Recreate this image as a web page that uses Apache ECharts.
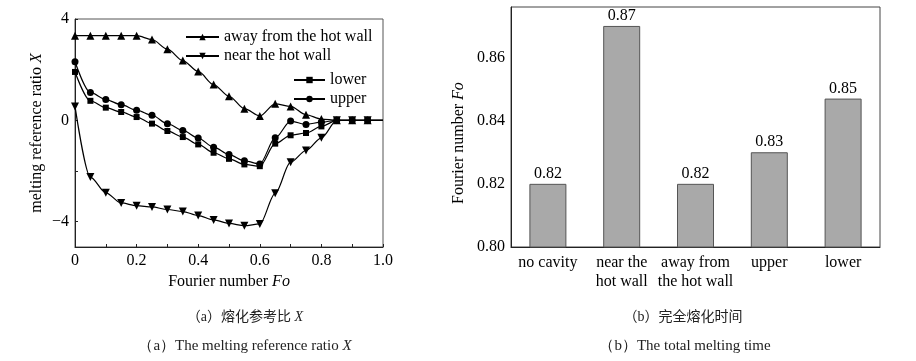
<!DOCTYPE html>
<html><head><meta charset="utf-8">
<script src="https://cdn.jsdelivr.net/npm/echarts@6/dist/echarts.min.js"></script>
<style>html,body{margin:0;padding:0;background:#fff}#c{width:916px;height:361px}</style>
</head><body><div id="c"></div>
<script>
const fo = [0,0.05,0.1,0.15,0.2,0.25,0.3,0.35,0.4,0.45,0.5,0.55,0.6,0.65,0.7,0.75,0.8,0.85,0.9,0.95,1.0];
const away  = [3.34,3.34,3.34,3.34,3.34,3.19,2.81,2.36,1.93,1.41,0.95,0.46,0.17,0.65,0.55,0.22,0.05,0,0,0,0];
const near  = [0.55,-2.24,-2.86,-3.26,-3.37,-3.42,-3.52,-3.60,-3.76,-3.93,-4.07,-4.16,-4.09,-2.88,-1.65,-1.19,-0.69,0,0,0,0];
const lower = [1.91,0.77,0.50,0.33,0.13,-0.13,-0.42,-0.66,-0.95,-1.28,-1.52,-1.74,-1.81,-0.92,-0.59,-0.50,-0.24,0,0,0,0];
const upper = [2.31,1.10,0.82,0.62,0.40,0.20,-0.13,-0.40,-0.70,-1.06,-1.35,-1.60,-1.72,-0.69,-0.03,-0.16,-0.07,0,0,0,0];
const xTickLabels = ['0','0.2','0.4','0.6','0.8','1.0'];
const yTickLabelsLeft = [-4,0,4];
const cases = ['no cavity','near the\nhot wall','away from\nthe hot wall','upper','lower'];
const totalFo = [0.820,0.870,0.820,0.830,0.847];

const F = 'Liberation Serif, Times New Roman, serif';
const CJK = 'Liberation Serif, Noto Sans CJK SC';
const AX = '#222';
function pts(arr){ return fo.map((x,i)=> i===fo.length-1 ? {value:[x,arr[i]],symbol:'none'} : [x,arr[i]]); }
function lineSeries(name, arr, sym, rot){
  return {type:'line', name, xAxisIndex:0, yAxisIndex:0, data:pts(arr), smooth:0.3, smoothMonotone:'x',
    symbol:sym, symbolSize: sym==='circle'?7:(sym==='rect'?6:8), symbolRotate:rot||0,
    lineStyle:{color:'#000',width:1.2}, itemStyle:{color:'#000'}, animation:false};
}
function cap(text, x, y, size, fam){
  return {text, left:x, top:y, textAlign:'center',
    textStyle:{fontFamily:fam, fontSize:size, fontWeight:'normal', color:'#222',
      rich:{i:{fontStyle:'italic', fontFamily:F, fontSize:size, color:'#222'}}}};
}
const chart = echarts.init(document.getElementById('c'), null, {renderer:'canvas'});
chart.setOption({
  animation:false,
  textStyle:{fontFamily:F},
  title:[
    cap('（a）熔化参考比 {i|X}', 240, 305, 14, CJK),
    cap('（a）The melting reference ratio {i|X}', 240, 334, 15, F),
    cap('（b）完全熔化时间', 678, 305, 14, CJK),
    cap('（b）The total melting time', 680, 334, 15, F)
  ],
  legend:[
    {data:['away from the hot wall','near the hot wall'], orient:'vertical', left:180, top:24, itemWidth:33, itemHeight:8, itemGap:3,
     textStyle:{fontFamily:F, fontSize:16, color:'#000'}, selectedMode:false},
    {data:['lower','upper'], orient:'vertical', left:288, top:67, itemWidth:31, itemHeight:8, itemGap:3,
     textStyle:{fontFamily:F, fontSize:16, color:'#000'}, selectedMode:false}
  ],
  grid:[
    {left:75, right:533, top:19, bottom:114, show:true, borderColor:'#555', borderWidth:1},
    {left:511, right:36, top:7, bottom:114, show:true, borderColor:'#444', borderWidth:1}
  ],
  xAxis:[
    {type:'value', gridIndex:0, min:0, max:1, interval:0.1,
     name:'Fourier number {i|Fo}', nameLocation:'middle', nameGap:24,
     nameTextStyle:{fontFamily:F, fontSize:16, color:'#000', rich:{i:{fontStyle:'italic', fontFamily:F, fontSize:16}}},
     axisLine:{onZero:false, lineStyle:{color:AX}}, splitLine:{show:false},
     axisTick:{inside:true, length:3, lineStyle:{color:AX}},
     axisLabel:{fontFamily:F, fontSize:16, color:'#000', margin:6,
       formatter:v=>{const k=Math.round(v*10); return k%2?'':xTickLabels[k/2];}}},
    {type:'category', gridIndex:1, data:cases,
     axisLine:{lineStyle:{color:AX}},
     axisTick:{inside:true, alignWithLabel:true, length:4, lineStyle:{color:AX}},
     axisLabel:{fontFamily:F, fontSize:16, color:'#000', lineHeight:19, margin:6, interval:0}}
  ],
  yAxis:[
    {type:'value', gridIndex:0, min:-5, max:4, interval:1,
     name:'melting reference ratio {i|X}', nameLocation:'middle', nameGap:30,
     nameTextStyle:{fontFamily:F, fontSize:16, color:'#000', rich:{i:{fontStyle:'italic', fontFamily:F, fontSize:16}}},
     axisLine:{show:true, onZero:false, lineStyle:{color:AX}}, splitLine:{show:false},
     axisTick:{inside:true, length:3, customValues:[-4,-2,0,2,4], lineStyle:{color:AX}},
     axisLabel:{fontFamily:F, fontSize:16, color:'#000', margin:6, customValues:yTickLabelsLeft,
       formatter:v=>String(v).replace('-','\u2212')}},
    {type:'value', gridIndex:1, min:0.80, max:0.876, interval:0.01,
     name:'Fourier number {i|Fo}', nameLocation:'middle', nameGap:44,
     nameTextStyle:{fontFamily:F, fontSize:16, color:'#000', padding:[0,32,0,0], rich:{i:{fontStyle:'italic', fontFamily:F, fontSize:16}}},
     axisLine:{show:true, lineStyle:{color:AX}}, splitLine:{show:false},
     axisTick:{inside:true, length:4, lineStyle:{color:AX}},
     axisLabel:{fontFamily:F, fontSize:16, color:'#000', margin:6, showMaxLabel:false,
       formatter:v=>{const k=Math.round(v*100); return k%2?'':v.toFixed(2);}}}
  ],
  series:[
    lineSeries('away from the hot wall', away, 'triangle', 0),
    lineSeries('near the hot wall', near, 'triangle', 180),
    lineSeries('lower', lower, 'rect', 0),
    lineSeries('upper', upper, 'circle', 0),
    {type:'bar', xAxisIndex:1, yAxisIndex:1, data:totalFo, barWidth:37,
     itemStyle:{color:'#a9a9a9', borderColor:'#555', borderWidth:1},
     label:{show:true, position:'top', distance:2, fontFamily:F, fontSize:16, color:'#000', formatter:p=>p.value.toFixed(2)}}
  ]
});
</script></body></html>
